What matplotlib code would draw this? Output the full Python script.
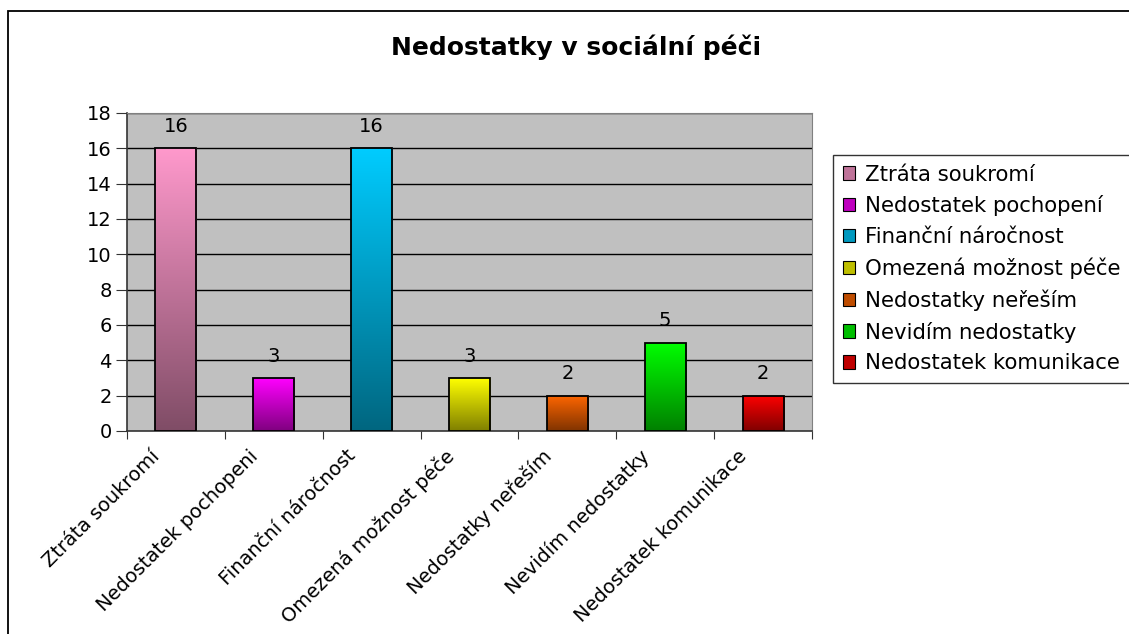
import matplotlib
matplotlib.use("Agg")
import matplotlib.pyplot as plt
import numpy as np
from matplotlib.patches import Rectangle, Patch
from matplotlib.colors import LinearSegmentedColormap, to_rgb

plt.rcParams['font.family'] = ['DejaVu Sans']

title = "Nedostatky v sociální péči"
categories = ["Ztráta soukromí", "Nedostatek pochopeni", "Finanční náročnost",
              "Omezená možnost péče", "Nedostatky neřeším", "Nevidím nedostatky",
              "Nedostatek komunikace"]
legend_labels = ["Ztráta soukromí", "Nedostatek pochopení", "Finanční náročnost",
                 "Omezená možnost péče", "Nedostatky neřeším", "Nevidím nedostatky",
                 "Nedostatek komunikace"]
values = [16, 3, 16, 3, 2, 5, 2]
top_colors = ["#FF99CC", "#FF00FF", "#00CCFF", "#FFFF00", "#FF6600", "#00FF00", "#FF0000"]
yticks = list(range(0, 19, 2))

W, H = 1129, 634
fig = plt.figure(figsize=(W / 100, H / 100), dpi=100)

# outer chart border
fig.patches.append(Rectangle((8 / W, -0.1), 1.2, (1 - 11 / H) + 0.1, transform=fig.transFigure,
                             fill=False, edgecolor='black', linewidth=1.3))

ax = fig.add_axes([127 / W, 1 - 431 / H, (812 - 127) / W, (431 - 113) / H])
ax.set_facecolor('#C0C0C0')
ax.set_xlim(0, len(categories))
ax.set_ylim(0, 18)
ax.set_yticks(yticks)
ax.set_yticklabels([str(t) for t in yticks], fontsize=14)
for t in yticks[1:]:
    ax.axhline(t, color='black', linewidth=1.0, zorder=1)

ax.set_xticks(np.arange(0, len(categories) + 1))
ax.set_xticklabels([])
ax.set_xticks(np.arange(len(categories)) + 0.24, minor=True)
ax.set_xticklabels(categories, minor=True, rotation=45, ha='right', rotation_mode='anchor',
                   fontsize=14)
ax.tick_params(axis='x', which='minor', length=0, pad=11)
ax.tick_params(axis='x', which='major', length=6, direction='out', color='#333333')
ax.tick_params(axis='y', length=8, direction='out', color='#333333', pad=3)

for s in ['top', 'right']:
    ax.spines[s].set_color('#808080')
for s in ['left', 'bottom']:
    ax.spines[s].set_color('#333333')
    ax.spines[s].set_linewidth(1.2)

bw = 0.42
handles = []
grad = np.linspace(0, 1, 256).reshape(-1, 1)
for i, (v, c) in enumerate(zip(values, top_colors)):
    rgb = np.array(to_rgb(c))
    dark = rgb * 0.5
    cmap = LinearSegmentedColormap.from_list("g%d" % i, [dark, rgb])
    x0 = i + 0.5 - bw / 2
    rect = Rectangle((x0, 0), bw, v, facecolor='none', edgecolor='black', linewidth=1.3, zorder=4)
    ax.add_patch(rect)
    im = ax.imshow(grad, cmap=cmap, aspect='auto', extent=(x0, x0 + bw, 0, v),
                   origin='lower', zorder=3)
    im.set_clip_path(rect)
    ax.text(i + 0.5, v + 0.7, str(v), ha='center', va='bottom', fontsize=14, zorder=5)
    handles.append(Patch(facecolor=tuple((rgb + dark) / 2), edgecolor='black', linewidth=0.8))
ax.set_xlim(0, len(categories))
ax.set_ylim(0, 18)

fig.text(576 / W, 1 - 47 / H, title, ha='center', va='center',
         fontsize=18, fontweight='bold')

leg = fig.legend(handles, legend_labels, loc='upper left',
                 bbox_to_anchor=(833 / W, 1 - 155 / H), fontsize=15.3, frameon=True,
                 fancybox=False, edgecolor='black', handlelength=0.6, handleheight=0.6,
                 handletextpad=0.45, labelspacing=0.5, borderpad=0.45, borderaxespad=0)
leg.get_frame().set_linewidth(1.0)

fig.savefig("out.png", dpi=100)
